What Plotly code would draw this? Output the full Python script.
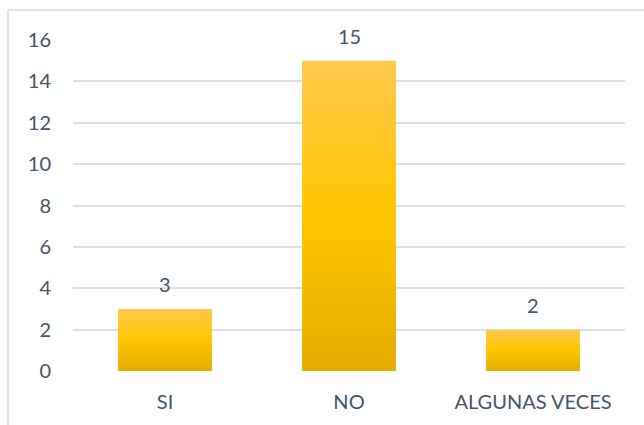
import plotly.graph_objects as go

categories = ["SI", "NO", "ALGUNAS VECES"]
values = [3, 15, 2]
y_ticks = [0, 2, 4, 6, 8, 10, 12, 14, 16]

TEXT = "#44546A"
GRID = "#DCE0E6"
FONT = "Lato"
BAR_WIDTH = 0.51

# gold gradient: darker at the base, saturated mid, lighter at the top
gold_scale = [[0.0, "#E2AD00"], [0.5, "#FFC600"], [1.0, "#FFC84B"]]

fig = go.Figure()

for i, (cat, v) in enumerate(zip(categories, values)):
    x0, x1 = i - BAR_WIDTH / 2, i + BAR_WIDTH / 2
    fig.add_trace(go.Scatter(
        x=[x0, x1, x1, x0, x0],
        y=[0, 0, v, v, 0],
        mode="lines",
        line=dict(width=0),
        fill="toself",
        fillgradient=dict(type="vertical", colorscale=gold_scale, start=0, stop=v),
        hoverinfo="text",
        text=f"{cat}: {v}",
        showlegend=False,
    ))

# value labels above each bar
annotations = [
    dict(x=i, y=v, xref="x", yref="y", text=str(v), showarrow=False,
         yshift=25, font=dict(family=FONT, size=20, color=TEXT))
    for i, v in enumerate(values)
]

fig.update_layout(
    width=644,
    height=425,
    margin=dict(l=73, r=19, t=40, b=54),
    paper_bgcolor="white",
    plot_bgcolor="white",
    font=dict(family=FONT, size=20, color=TEXT),
    annotations=annotations,
    xaxis=dict(
        range=[-0.5, len(categories) - 0.5],
        tickvals=list(range(len(categories))),
        ticktext=categories,
        showgrid=False,
        zeroline=False,
        showline=False,
        ticks="",
        ticklabelstandoff=17,
        fixedrange=True,
    ),
    yaxis=dict(
        range=[0, 16],
        tickvals=y_ticks,
        showgrid=True,
        gridcolor=GRID,
        gridwidth=1.5,
        zeroline=False,
        showline=False,
        ticks="",
        ticklabelstandoff=21,
        fixedrange=True,
    ),
    shapes=[
        # chart frame (top and left edges)
        dict(type="line", xref="paper", yref="paper",
             x0=-0.1178, x1=1.05, y0=1.0906, y1=1.0906,
             line=dict(color="#D9D9D9", width=1.5)),
        dict(type="line", xref="paper", yref="paper",
             x0=-0.1178, x1=-0.1178, y0=1.0906, y1=-0.2,
             line=dict(color="#D9D9D9", width=1.5)),
    ],
)

fig.write_html("out.html")
